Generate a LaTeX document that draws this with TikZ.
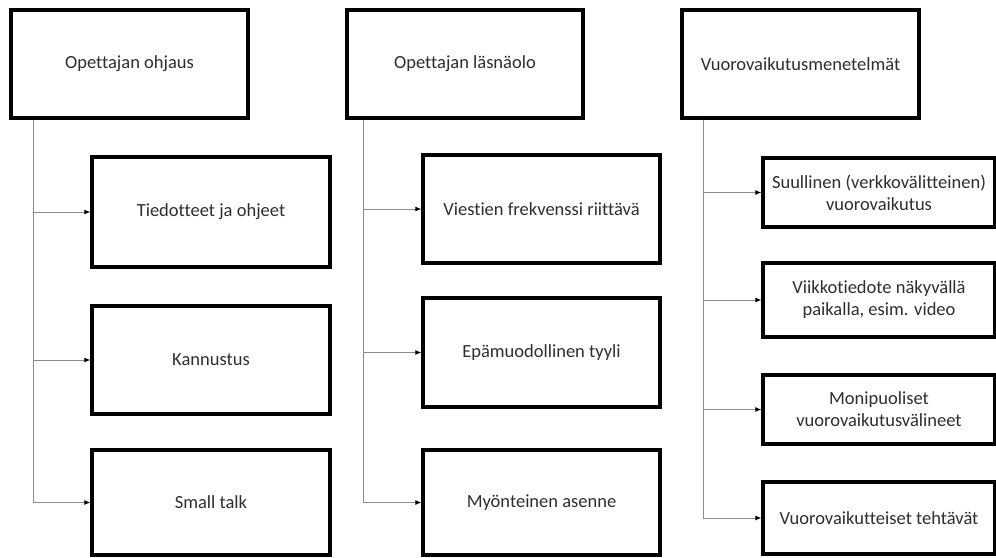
\documentclass[tikz,border=0pt]{standalone}
\usepackage{fontspec}
\setmainfont{Carlito}[Ligatures=NoCommon]
\usetikzlibrary{arrows.meta,shadows}
\begin{document}
\begin{tikzpicture}[x=1pt,y=-1pt,
  box/.style={draw=black,line width=3.2pt,fill=white,inner sep=2pt,
    align=center,text=black!82,font=\fontsize{18.5}{22}\selectfont,
    drop shadow={shadow xshift=1.5pt,shadow yshift=-1.5pt,opacity=0.35}},
  conn/.style={draw=black!45,line width=1pt,-{Latex[black,length=6pt,width=5pt]}}]
\useasboundingbox[fill=white] (0,0) rectangle (996,557);
\newcommand{\bx}[6]{\node[box,minimum width={#4-#2},minimum height={#5-#3}] (#1) at ({(#2+#4)/2},{(#3+#5)/2}) {#6};}
% column 1
\bx{t1}{11}{10}{248}{118}{Opettajan ohjaus}
\bx{a1}{92}{157}{330}{267}{Tiedotteet ja ohjeet}
\bx{a2}{92}{306}{330}{414}{Kannustus}
\bx{a3}{92}{450}{330}{555}{Small talk}
% column 2
\bx{t2}{347}{10}{583}{118}{Opettajan läsnäolo}
\bx{b1}{423}{155}{660}{263}{Viestien frekvenssi riittävä}
\bx{b2}{423}{298}{660}{407}{Epämuodollinen tyyli}
\bx{b3}{423}{450}{660}{555}{Myönteinen asenne}
% column 3
\bx{t3}{682}{10}{919}{118}{Vuorovaikutusmenetelmät}
\bx{c1}{763}{158}{995}{227}{Suullinen (verkkovälitteinen)\\vuorovaikutus}
\bx{c2}{763}{263}{995}{337}{Viikkotiedote näkyvällä\\paikalla, esim. video}
\bx{c3}{763}{375}{995}{444}{Monipuoliset\\vuorovaikutusvälineet}
\bx{c4}{763}{482}{995}{554}{Vuorovaikutteiset tehtävät}
% connectors
\coordinate (v1) at (33,118);
\coordinate (v2) at (363,118);
\coordinate (v3) at (703,118);
\foreach \n in {a1,a2,a3} \draw[conn] (t1.south -| v1) |- (\n.west);
\foreach \n in {b1,b2,b3} \draw[conn] (t2.south -| v2) |- (\n.west);
\foreach \n in {c1,c2,c3,c4} \draw[conn] (t3.south -| v3) |- (\n.west);
\end{tikzpicture}
\end{document}
